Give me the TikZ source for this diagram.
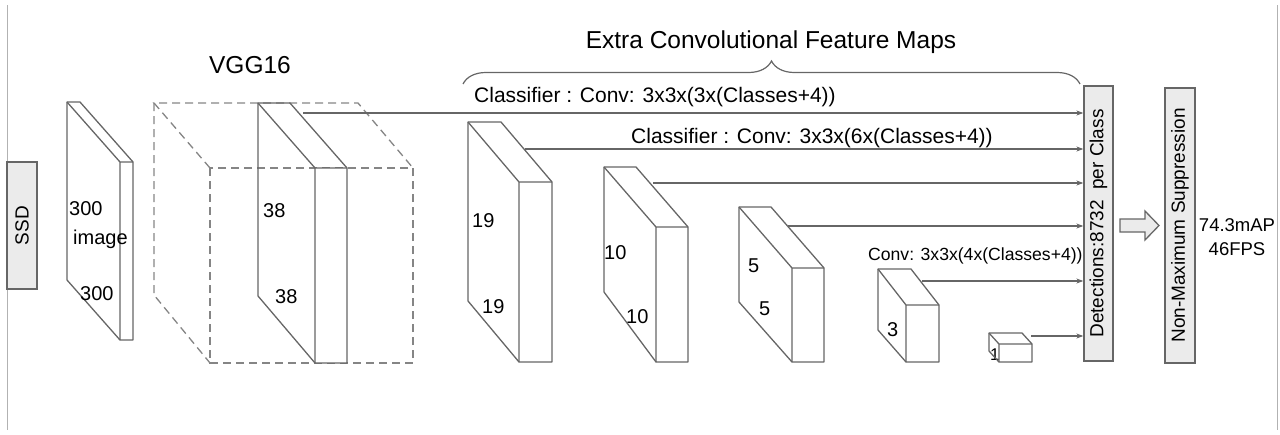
\documentclass[tikz,border=0pt]{standalone}
\usepackage{fontspec}
\setmainfont{Liberation Sans}
\usetikzlibrary{arrows.meta,decorations.pathreplacing}
\definecolor{edge}{HTML}{666666}
\definecolor{boxfill}{HTML}{EBEBEB}
\tikzset{
	map/.style={draw=edge,line width=1.3pt,line join=round},
	cube/.style={draw=edge!80,line width=1.3pt,dash pattern=on 8pt off 5pt},
	link/.style={draw=edge,line width=1.1pt,-{Stealth[length=7pt,width=5pt]}},
	box/.style={draw=edge,fill=boxfill,line width=1.3pt,inner sep=0pt},
	lbl/.style={font=\fontsize{20}{20}\selectfont,inner sep=0pt,anchor=base west},
	clstext/.style={font=\fontsize{21}{21}\selectfont,inner sep=0pt,anchor=base west},
	side/.style={font=\fontsize{19}{19}\selectfont},
}
\begin{document}
\begin{tikzpicture}[x=1pt,y=-1pt]
		\useasboundingbox (0,0) rectangle (1280,434);
		\draw[edge!50,line width=1pt] (7,5) -- (7,430);
		\draw[edge!50,line width=1pt] (1277,5) -- (1277,430);
		% boxes
		\node[box,side,minimum width=30pt,minimum height=127pt] (ssd) at (22,225.5) {\rotatebox{90}{SSD}};
		\node[box,side,minimum width=29pt,minimum height=275pt] (det) at (1098.5,223.5) {\rotatebox{90}{Detections:8732~~per Class}};
		\node[box,side,minimum width=30pt,minimum height=275pt] (nms) at (1180,225.5) {\rotatebox{90}{Non-Maximum Suppression}};
		\draw[box] (1120,219) -- (1145,219) -- (1145,211) -- (1159,225.5) -- (1145,240) -- (1145,232) -- (1120,232) -- cycle;
		\node[font=\fontsize{18.5}{24}\selectfont,align=center] (score) at (1237,237) {74.3mAP\\46FPS};
		% VGG16 block
		\draw[cube] (210,168) rectangle (413,363);
		\draw[cube] (210,168) -- (154,103) -- (358,103) -- (413,168);
		\draw[cube] (154,103) -- (154,295) -- (210,363);
		\node[lbl] (one) at (990,360) {\fontsize{17}{17}\selectfont 1};
		% feature maps
		\foreach \x/\y/\w/\dx/\dy/\b/\l in {67/102/13/53/60/340/280,258/103/32/57/65/363/296,468/122/33/51/60/362/301,604/167/32/52/60/362/292,739/207/32/53/61/362/302,878/269/33/28/36/362/330,989/333/33/10/11/362/351}{
			\fill[white] ({\x+\dx},{\y+\dy}) rectangle ({\x+\w+\dx},\b);
			\draw[map] (\x,\y) -- ++(\w,0) -- ++(\dx,\dy) -- ({\x+\w+\dx},\b) -- ({\x+\dx},\b) -- (\x,\l) -- cycle;
			\draw[map] (\x,\y) -- ++(\dx,\dy) -- ++(\w,0) ({\x+\dx},{\y+\dy}) -- ({\x+\dx},\b);
		}
		\node[lbl] (in1) at (69,215) {300};
		\node[lbl] (in2) at (73,244) {image};
		\node[lbl] (in3) at (80,300) {300};
		\node[lbl] (a1) at (263,217) {38};
		\node[lbl] (a2) at (275,303) {38};
		\node[lbl] (b1) at (472,227) {19};
		\node[lbl] (b2) at (482,313) {19};
		\node[lbl] (c1) at (604,259) {10};
		\node[lbl] (c2) at (626,323) {10};
		\node[lbl] (d1) at (748,272) {5};
		\node[lbl] (d2) at (759,315) {5};
		\node[lbl] (e1) at (887,336) {3};
		% titles
		\node[font=\fontsize{24.5}{24.5}\selectfont,anchor=base,inner sep=0pt] (vgg) at (250,73) {VGG16};
		\node[font=\fontsize{24.5}{24.5}\selectfont,anchor=base,inner sep=0pt] (extra) at (771,48) {Extra Convolutional Feature Maps};
		\draw[edge,line width=1.2pt,decorate,decoration={brace,amplitude=23pt}] (463,84) -- (1080,84);
		\node[clstext] (cls1) at (474,102) {Classifier : Conv: 3x3x(3x(Classes+4))};
		\node[clstext] (cls2) at (631,143) {Classifier : Conv: 3x3x(6x(Classes+4))};
		\node[clstext,font=\fontsize{17.6}{17.6}\selectfont] (cls3) at (868,260) {Conv: 3x3x(4x(Classes+4))};
		% outputs
		\coordinate (o38) at (303,113);
		\coordinate (o19) at (525,149);
		\coordinate (o10) at (653,183);
		\coordinate (o5) at (788,226);
		\coordinate (o3) at (922,281);
		\coordinate (o1) at (1031,336);
		\foreach \o in {o38,o19,o10,o5,o3,o1}
			\draw[link] (\o) -- (\o -| det.west);
	\end{tikzpicture}
\end{document}
